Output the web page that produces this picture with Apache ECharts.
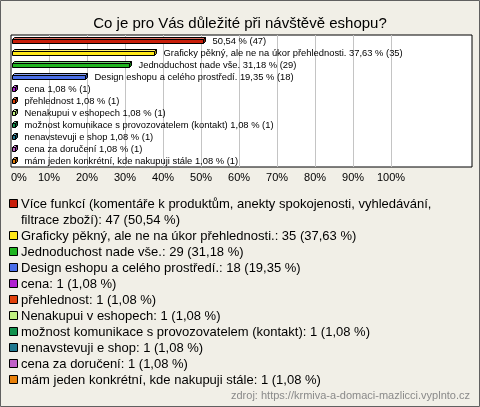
<!DOCTYPE html>
<html><head><meta charset="utf-8">
<script src="https://cdn.jsdelivr.net/npm/echarts@6/dist/echarts.min.js"></script>
<style>html,body{margin:0;padding:0;background:#f1efe7}#c{width:480px;height:407px}</style>
</head><body><div id="c"></div>
<script>
const titleText = 'Co je pro Vás důležité při návštěvě eshopu?';
const sourceText = 'zdroj: https://krmiva-a-domaci-mazlicci.vyplnto.cz';
const categories = [
  'Více funkcí (komentáře k produktům, anekty spokojenosti, vyhledávání, filtrace zboží)',
  'Graficky pěkný, ale ne na úkor přehlednosti.',
  'Jednoduchost nade vše.',
  'Design eshopu a celého prostředí.',
  'cena',
  'přehlednost',
  'Nenakupui v eshopech',
  'možnost komunikace s provozovatelem (kontakt)',
  'nenavstevuji e shop',
  'cena za doručení',
  'mám jeden konkrétní, kde nakupuji stále'
];
const counts = [47, 35, 29, 18, 1, 1, 1, 1, 1, 1, 1];
const percents = [50.54, 37.63, 31.18, 19.35, 1.08, 1.08, 1.08, 1.08, 1.08, 1.08, 1.08];
const barLabelNames = ['', 'Graficky pěkný, ale ne na úkor přehlednosti.', 'Jednoduchost nade vše.', 'Design eshopu a celého prostředí.',
  'cena', 'přehlednost', 'Nenakupui v eshopech', 'možnost komunikace s provozovatelem (kontakt)', 'nenavstevuji e shop', 'cena za doručení', 'mám jeden konkrétní, kde nakupuji stále'];
const colors = ['#c81e0a', '#ffe818', '#1fb41f', '#4a6ee8', '#b020d0', '#e0400a', '#c0f080', '#10904c', '#1f7890', '#c060c8', '#e8800a'];
const xTicks = [0, 10, 20, 30, 40, 50, 60, 70, 80, 90, 100];

function fmt(v) { return v.toFixed(2).replace('.', ','); }
function shade(hex, f) {
  const n = parseInt(hex.slice(1), 16);
  let r = (n >> 16) & 255, g = (n >> 8) & 255, b = n & 255;
  if (f > 0) { r += (255 - r) * f; g += (255 - g) * f; b += (255 - b) * f; }
  else { r *= (1 + f); g *= (1 + f); b *= (1 + f); }
  return 'rgb(' + Math.round(r) + ',' + Math.round(g) + ',' + Math.round(b) + ')';
}

const chart = echarts.init(document.getElementById('c'), null, { renderer: 'canvas' });

function renderBar(params, api) {
  const v = api.value(0), idx = api.value(1);
  const p0 = api.coord([0, idx]);
  const p1 = api.coord([v, idx]);
  const color = colors[params.seriesIndex];
  const x0 = Math.round(p0[0]) + 1.5, x1 = Math.round(p1[0]) + 0.5;
  const yc = Math.round(p0[1]);
  const d = 2, h = 4;
  const top = yc - 1.5, bot = top + h;
  const label = (barLabelNames[params.seriesIndex] ? barLabelNames[params.seriesIndex] + ' ' : '') +
    fmt(percents[params.seriesIndex]) + ' % (' + counts[params.seriesIndex] + ')';
  return {
    type: 'group',
    children: [
      { type: 'polygon', shape: { points: [[x0, top], [x0 + d, top - d], [x1 + d, top - d], [x1, top]] },
        style: { fill: shade(color, 0.35), stroke: '#000', lineWidth: 1 } },
      { type: 'polygon', shape: { points: [[x1, top], [x1 + d, top - d], [x1 + d, bot - d], [x1, bot]] },
        style: { fill: shade(color, -0.35), stroke: '#000', lineWidth: 1 } },
      { type: 'rect', shape: { x: x0, y: top, width: x1 - x0, height: h },
        style: { fill: color, stroke: '#000', lineWidth: 1 } },
      { type: 'text', x: x1 + 9, y: yc,
        style: { text: label, fill: '#000', font: '9.4px "Liberation Sans", Arial, sans-serif', verticalAlign: 'middle', align: 'left' } }
    ]
  };
}

const series = categories.map((c, i) => ({
  type: 'custom',
  name: c,
  renderItem: renderBar,
  encode: { x: 0, y: 1 },
  data: [[percents[i], i]],
  clip: false,
  silent: true
}));

// legend drawn as graphic elements (text wraps like the reference)
const measureCtx = document.createElement('canvas').getContext('2d');
const legendFont = '13px "Liberation Sans", Arial, sans-serif';
measureCtx.font = legendFont;
function wrap(text, maxW) {
  const words = text.split(' ');
  const lines = [];
  let cur = '';
  words.forEach(w => {
    const t = cur ? cur + ' ' + w : w;
    if (measureCtx.measureText(t).width > maxW && cur) { lines.push(cur); cur = w; }
    else cur = t;
  });
  lines.push(cur);
  return lines;
}
const graphics = [];
let line = 0;
const legendTop = 204, legendStep = 16;
categories.forEach((c, i) => {
  const txt = c + ': ' + counts[i] + ' (' + fmt(percents[i]) + ' %)';
  const lines = wrap(txt, 440);
  const y = legendTop + line * legendStep;
  graphics.push({ type: 'rect', shape: { x: 9.5, y: y - 4.5, width: 8, height: 8 },
    style: { fill: colors[i], stroke: '#000', lineWidth: 1 } });
  graphics.push({ type: 'text', x: 21, y: y - 8,
    style: { text: lines.join('\n'), font: legendFont, fill: '#000', lineHeight: legendStep, verticalAlign: 'top' } });
  line += lines.length;
});
graphics.push({ type: 'text', right: 10, top: 390,
  style: { text: sourceText, font: '11px "Liberation Sans", Arial, sans-serif', fill: '#8a8a8a' } });
graphics.push({ type: 'rect', shape: { x: 0.5, y: 0.5, width: 479, height: 406 },
  style: { fill: 'none', stroke: '#606060', lineWidth: 1 } });

const splitColors = [];
for (let t = 0; t <= 130; t += 10) splitColors.push(xTicks.indexOf(t) > 0 ? '#c4c4c4' : 'rgba(0,0,0,0)');

chart.setOption({
  backgroundColor: '#f1efe7',
  animation: false,
  title: { text: titleText, left: 'center', top: 11,
    textStyle: { fontSize: 15, fontWeight: 'normal', color: '#000', fontFamily: '"Liberation Sans", Arial, sans-serif' } },
  grid: { left: 11, right: 8, top: 35, bottom: 240, show: true, backgroundColor: '#fff', borderColor: '#000', borderWidth: 1 },
  xAxis: {
    type: 'value', min: 0, max: 121.3, interval: 10,
    axisLine: { show: false }, axisTick: { show: false },
    splitLine: { show: true, lineStyle: { color: splitColors, width: 1 } },
    axisLabel: { margin: 5, color: '#000', fontSize: 11, fontFamily: '"Liberation Sans", Arial, sans-serif',
      alignMinLabel: 'left',
      formatter: v => (xTicks.indexOf(v) >= 0 ? v + '%' : ''), showMaxLabel: false }
  },
  yAxis: {
    type: 'category', data: categories.map((c, i) => i), inverse: true,
    axisLine: { show: false }, axisTick: { show: false }, axisLabel: { show: false }, splitLine: { show: false }
  },
  series: series,
  graphic: graphics
});
</script>
</body></html>
